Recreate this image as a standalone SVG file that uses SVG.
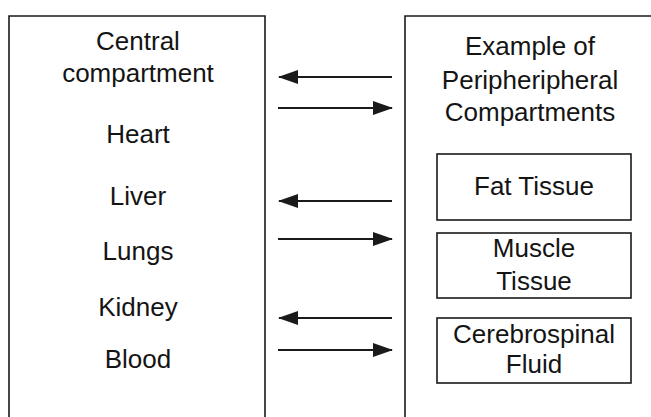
<svg xmlns="http://www.w3.org/2000/svg" width="651" height="417" viewBox="0 0 651 417">
<defs>
<style>
.box{fill:none;stroke:#1a1a1a;stroke-width:1.6}
.t{font-family:"Liberation Sans",Arial,sans-serif;font-size:26px;fill:#141414;text-anchor:middle}
.arr{stroke:#1a1a1a;stroke-width:2;fill:none}
</style>
<marker id="ah" viewBox="0 0 20 14" refX="19" refY="7" markerWidth="20" markerHeight="14" markerUnits="userSpaceOnUse" orient="auto">
<path d="M0,0 L20,7 L0,14 Z" fill="#1a1a1a"/>
</marker>
</defs>
<rect width="651" height="417" fill="#ffffff"/>
<g id="central">
<path class="box" d="M9,430 V16 H265 V430"/>
<text class="t" x="138" y="50">Central</text>
<text class="t" x="138" y="82">compartment</text>
<text class="t" x="138" y="143">Heart</text>
<text class="t" x="138" y="205">Liver</text>
<text class="t" x="138" y="260">Lungs</text>
<text class="t" x="138" y="316">Kidney</text>
<text class="t" x="138" y="368">Blood</text>
</g>
<g id="peripheral">
<path class="box" d="M405,430 V16 H660"/>
<text class="t" x="530" y="55">Example of</text>
<text class="t" x="530" y="89">Peripheripheral</text>
<text class="t" x="530" y="121">Compartments</text>
</g>
<g id="fat">
<rect class="box" x="437" y="154" width="194" height="66"/>
<text class="t" x="534" y="195">Fat Tissue</text>
</g>
<g id="muscle">
<rect class="box" x="437" y="233" width="194" height="65"/>
<text class="t" x="534" y="257">Muscle</text>
<text class="t" x="534" y="290">Tissue</text>
</g>
<g id="csf">
<rect class="box" x="437" y="318" width="194" height="65"/>
<text class="t" x="534" y="343">Cerebrospinal</text>
<text class="t" x="534" y="373">Fluid</text>
</g>
<g id="connectors">
<line class="arr" x1="392" y1="77" x2="279" y2="77" marker-end="url(#ah)"/>
<line class="arr" x1="278" y1="108" x2="392" y2="108" marker-end="url(#ah)"/>
<line class="arr" x1="392" y1="201" x2="279" y2="201" marker-end="url(#ah)"/>
<line class="arr" x1="278" y1="239" x2="392" y2="239" marker-end="url(#ah)"/>
<line class="arr" x1="392" y1="318" x2="279" y2="318" marker-end="url(#ah)"/>
<line class="arr" x1="278" y1="350" x2="392" y2="350" marker-end="url(#ah)"/>
</g>
</svg>
